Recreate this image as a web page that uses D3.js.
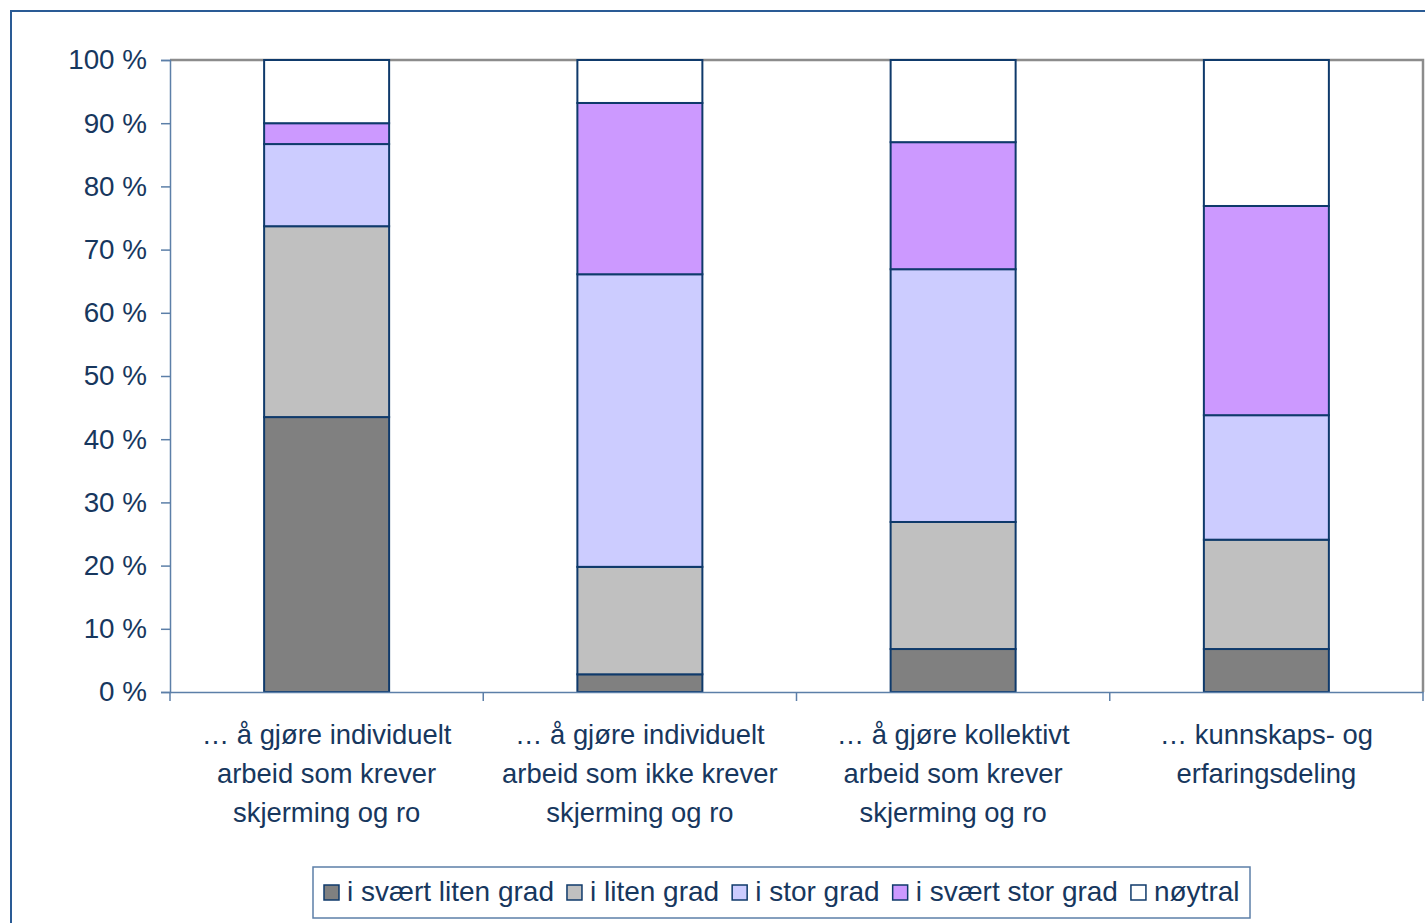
<!DOCTYPE html>
<html>
<head>
<meta charset="utf-8">
<script src="https://cdn.jsdelivr.net/npm/d3@7"></script>
<style>
  body { margin: 0; background: #fff; }
  svg { display: block; font-family: "Liberation Sans", Arial, sans-serif; }
</style>
</head>
<body>
<svg id="chart" width="1425" height="923"></svg>
<script>
// categories (multi-line labels)
const categories = [
  ["… å gjøre individuelt", "arbeid som krever", "skjerming og ro"],
  ["… å gjøre individuelt", "arbeid som ikke krever", "skjerming og ro"],
  ["… å gjøre kollektivt", "arbeid som krever", "skjerming og ro"],
  ["… kunnskaps- og", "erfaringsdeling"]
];
const seriesNames = ["i svært liten grad", "i liten grad", "i stor grad", "i svært stor grad", "nøytral"];
const seriesColors = ["#808080", "#C0C0C0", "#CCCCFF", "#CC99FF", "#FFFFFF"];

// percent per series, one value per category
const sværtLiten = [43.5, 2.8, 6.8, 6.8];
const liten      = [30.2, 17.0, 20.1, 17.3];
const stor       = [13.0, 46.3, 40.0, 19.7];
const sværtStor  = [3.3, 27.1, 20.1, 33.1];
const noytral    = [10.0, 6.8, 13.0, 23.1];
const yTicks = [0, 10, 20, 30, 40, 50, 60, 70, 80, 90, 100];

const seriesValues = [sværtLiten, liten, stor, sværtStor, noytral];
const textColor = "#17375E";
const edge = "#0F3A6B";
const axisColor = "#5C7FA8";

const svg = d3.select("#chart");

// outer frame
svg.append("rect")
  .attr("x", 11).attr("y", 11).attr("width", 1430).attr("height", 930)
  .attr("fill", "none").attr("stroke", "#2A5B95").attr("stroke-width", 2);

const plot = { left: 170, top: 60, right: 1423, bottom: 692 };

const x = d3.scaleBand()
  .domain(d3.range(categories.length))
  .range([plot.left, plot.right])
  .paddingInner(0).paddingOuter(0);
const y = d3.scaleLinear().domain([0, 100]).range([plot.bottom, plot.top]);

// plot area border (top + right in gray)
svg.append("path")
  .attr("d", `M${plot.left},${plot.top}H${plot.right}V${plot.bottom}`)
  .attr("fill", "none").attr("stroke", "#8C8C8C").attr("stroke-width", 2.5);

// stack
const rows = categories.map((c, i) => {
  const r = { idx: i };
  seriesNames.forEach((s, k) => { r[s] = seriesValues[k][i]; });
  return r;
});
const stacked = d3.stack().keys(seriesNames)(rows);
const barW = 125;

svg.append("g").selectAll("g")
  .data(stacked)
  .join("g")
  .attr("fill", (d, k) => seriesColors[k])
  .selectAll("rect")
  .data(d => d)
  .join("rect")
  .attr("x", (d, i) => x(i) + x.bandwidth() / 2 - barW / 2)
  .attr("y", d => y(d[1]))
  .attr("width", barW)
  .attr("height", d => y(d[0]) - y(d[1]))
  .attr("stroke", edge)
  .attr("stroke-width", 2);

// y axis
const yAxis = svg.append("g")
  .attr("transform", `translate(${plot.left},0)`)
  .call(d3.axisLeft(y).tickValues(yTicks).tickSize(9).tickPadding(14)
    .tickFormat(d => d + " %"));
yAxis.select(".domain").attr("stroke", axisColor).attr("stroke-width", 1.5);
yAxis.selectAll(".tick line").attr("stroke", axisColor).attr("stroke-width", 1.5);
yAxis.selectAll(".tick text")
  .attr("fill", textColor).attr("font-size", 27.8)
  .attr("font-family", "Liberation Sans, Arial, sans-serif");

// x axis
const xAxis = svg.append("g")
  .attr("transform", `translate(0,${plot.bottom})`)
  .call(d3.axisBottom(x).tickSize(0).tickFormat(""));
xAxis.select(".domain").attr("stroke", axisColor).attr("stroke-width", 1.5);
xAxis.selectAll(".tick").remove();
const bounds = d3.range(categories.length + 1).map(i => i < categories.length ? x(i) : plot.right);
xAxis.selectAll("line.sep")
  .data(bounds)
  .join("line")
  .attr("class", "sep")
  .attr("x1", d => d).attr("x2", d => d)
  .attr("y1", 0).attr("y2", 9)
  .attr("stroke", axisColor).attr("stroke-width", 1.5);

// category labels
svg.append("g").selectAll("text")
  .data(categories)
  .join("text")
  .attr("text-anchor", "middle")
  .attr("fill", textColor)
  .attr("font-size", 27.4)
  .attr("transform", (d, i) => `translate(${x(i) + x.bandwidth() / 2},744)`)
  .selectAll("tspan")
  .data(d => d)
  .join("tspan")
  .attr("x", 0)
  .attr("dy", (d, j) => j === 0 ? 0 : 39)
  .text(d => d);

// legend
const legend = svg.append("g");
legend.append("rect")
  .attr("x", 313).attr("y", 867).attr("width", 937).attr("height", 51)
  .attr("fill", "#fff").attr("stroke", "#5C7FA8").attr("stroke-width", 1.5);

let lx = 324;
seriesNames.forEach((name, k) => {
  legend.append("rect")
    .attr("x", lx).attr("y", 885).attr("width", 15).attr("height", 15)
    .attr("fill", seriesColors[k]).attr("stroke", edge).attr("stroke-width", 1.5);
  const t = legend.append("text")
    .attr("x", lx + 23).attr("y", 901)
    .attr("fill", textColor).attr("font-size", 28)
    .text(name);
  lx += 23 + t.node().getComputedTextLength() + 13;
});
</script>
</body>
</html>
